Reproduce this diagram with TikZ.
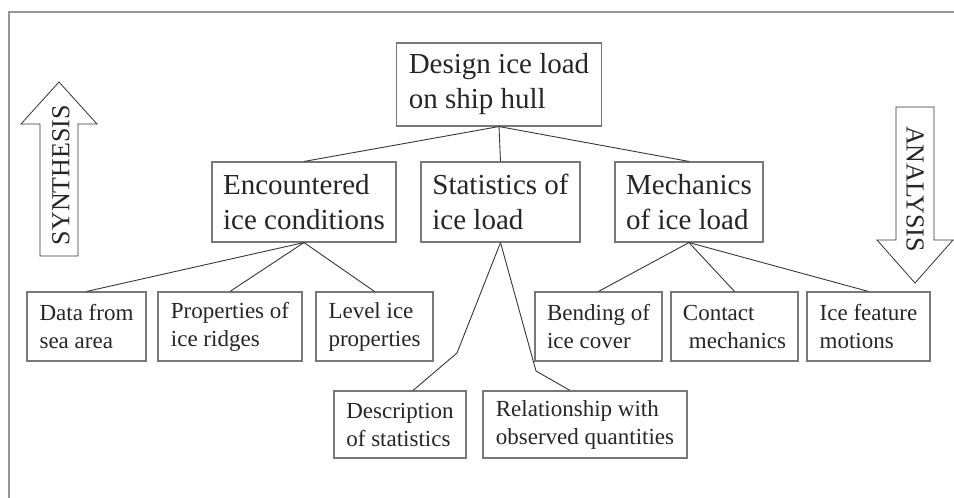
\documentclass[tikz,border=0pt]{standalone}
\usepackage{fontspec}
\setmainfont{Liberation Serif}
\definecolor{boxgray}{RGB}{120,120,120}
\definecolor{linkgray}{RGB}{55,55,55}
\definecolor{framegray}{RGB}{150,150,150}
\begin{document}
\begin{tikzpicture}[x=1pt, y=-1pt,
  bigbox/.style={draw=boxgray, line width=1.1pt, text=black!85, align=left, inner sep=0pt,
    font=\fontsize{29}{35}\selectfont, minimum height=80pt},
  smallbox/.style={draw=boxgray, line width=1.1pt, text=black!85, align=left, inner sep=0pt,
    font=\fontsize{23}{28}\selectfont, minimum height=69pt},
  link/.style={draw=linkgray, line width=0.9pt},
  bigarrow/.style={draw=black!80, line width=0.8pt, line join=miter},
  arrowtext/.style={text=black!85, font=\fontsize{26}{26}\selectfont}]
\useasboundingbox (0,0) rectangle (954,498);
\draw[framegray, line width=1.6pt] (954,12) -- (9,12) -- (9,498);

\node[bigbox, minimum width=205pt, minimum height=83pt] (top) at (499,84.5) {Design ice load\\on ship hull};

\node[bigbox, minimum width=184pt] (enc) at (304,202) {Encountered\\ice conditions};
\node[bigbox, minimum width=159pt] (stat) at (500.5,202) {Statistics of\\ice load};
\node[bigbox, minimum width=148pt] (mech) at (689,202) {Mechanics\\of ice load};

\node[smallbox, minimum width=119pt] (data) at (86.5,326.5) {Data from\\sea area};
\node[smallbox, minimum width=144pt] (ridge) at (230,326.5) {Properties of\\ice ridges};
\node[smallbox, minimum width=117pt] (level) at (374.5,326.5) {Level ice\\properties};
\node[smallbox, minimum width=127pt] (bend) at (598.5,326.5) {Bending of\\ice cover};
\node[smallbox, minimum width=127pt] (contact) at (734.5,326.5) {Contact\\\hspace{6pt}mechanics};
\node[smallbox, minimum width=123pt] (motion) at (868.5,326.5) {Ice feature\\motions};

\node[smallbox, minimum width=132pt, minimum height=67pt] (desc) at (400,424.5) {Description\\of statistics};
\node[smallbox, minimum width=204pt, minimum height=67pt] (rel) at (585,424.5) {Relationship with\\observed quantities};

\coordinate (bendL) at (457,353);
\coordinate (bendR) at (536,371);

\draw[link] (top.south) -- (enc.north);
\draw[link] (top.south) -- (stat.north);
\draw[link] (top.south) -- (mech.north);
\draw[link] (enc.south) -- (data.north);
\draw[link] (enc.south) -- (ridge.north);
\draw[link] (enc.south) -- (level.north);
\draw[link] (mech.south) -- (bend.north);
\draw[link] (mech.south) -- (contact.north);
\draw[link] (mech.south) -- (motion.north);
\draw[link] (stat.south) -- (bendL) -- ([xshift=13pt]desc.north);
\draw[link] (stat.south) -- (bendR) -- ([xshift=-15pt]rel.north);

\draw[bigarrow] (40,256) -- (40,124) -- (21,124) -- (59,82) -- (97,124) -- (78,124) -- (78,256) -- cycle;
\node[arrowtext, rotate=90] (synth) at (61,175) {SYNTHESIS};
\draw[bigarrow] (896,107) -- (934,107) -- (934,240) -- (953,240) -- (915,283) -- (877,240) -- (896,240) -- cycle;
\node[arrowtext, rotate=-90] (anal) at (915,189) {ANALYSIS};
\end{tikzpicture}
\end{document}
